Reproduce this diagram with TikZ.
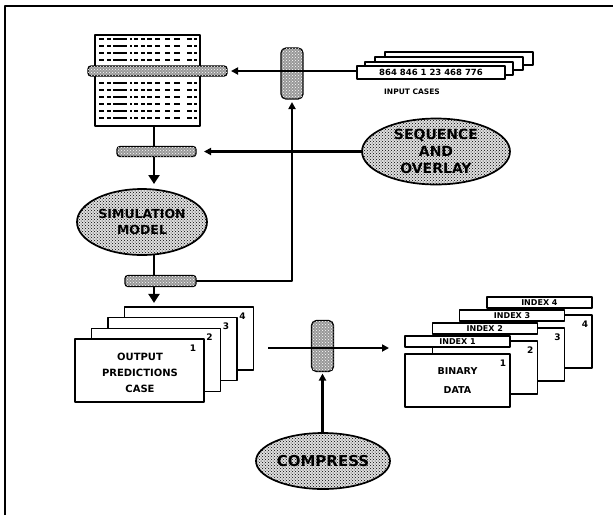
\documentclass[tikz,border=0pt]{standalone}
\usepackage{fontspec}
\newfontfamily\lbl{DejaVu Sans}
\usetikzlibrary{shapes.geometric, patterns, arrows.meta}

\begin{document}
\begin{tikzpicture}[x=1pt, y=-1pt, line join=round,
  card/.style={draw, line width=1.4pt, fill=white, inner sep=0pt, outer sep=0pt, anchor=north west},
  blob/.style={ellipse, draw, line width=1.7pt, inner sep=0pt, outer sep=0pt,
    preaction={fill=gray!25}, pattern=crosshatch dots, pattern color=black},
  token/.style={draw, line width=1.3pt, rounded corners=3pt, inner sep=0pt, outer sep=0pt,
    fill=gray!80, postaction={pattern=crosshatch dots, pattern color=white}},
  gate/.style={token, rounded corners=5pt, minimum width=22pt, minimum height=51pt},
  link/.style={line width=2.2pt},
  arr/.style={link, -{Triangle[length=7pt,width=7pt]}},
  bigarr/.style={link, -{Triangle[length=9pt,width=11pt]}},
  big/.style={font=\lbl\bfseries\fontsize{14}{17}\selectfont, align=center, inner sep=0pt},
  mid/.style={font=\lbl\bfseries\fontsize{10}{16}\selectfont, align=center, inner sep=0pt},
  small/.style={font=\lbl\bfseries\fontsize{8}{10}\selectfont, inner sep=0pt},
]
\useasboundingbox (0,0) rectangle (613,515);

% outer frame (left and top edges)
\draw[line width=1.4pt] (5,515) -- (5,6) -- (613,6);

% ---- table of cases ----
\node[card, minimum width=105pt, minimum height=91pt] (table) at (95,35) {};
\foreach \ry in {39,46,53,60,83,90,97,104,111,118}
  \foreach \a/\b in {99/104,107/111,113/127,130/132,134/138,141/145,147/152,155/160,165/170,174/180,187/192,194/197}
    \draw[line width=2.5pt] (\a,\ry) -- (\b,\ry);
\node[token, minimum width=139pt, minimum height=10pt] (bar1) at (157.5,71) {};

% ---- input cases stack ----
\foreach \k/\dx/\dy in {4/28/-14,3/18/-9,2/8/-4}
  \node[card, minimum width=148pt, minimum height=13pt] (in\k) at (357+\dx,66+\dy) {};
\node[card, minimum width=148pt, minimum height=13pt] (in1) at (357,66) {};
\node[small, font=\lbl\bfseries\fontsize{8.5}{10}\selectfont] at (in1.center) {864 846 1 23 468 776};
\node[small, font=\lbl\bfseries\fontsize{7.5}{9}\selectfont] (inlbl) at (412,92) {INPUT CASES};

% ---- upper gate ----
\node[gate] (filt1) at (292,73.5) {};
\draw[arr, shorten >=4pt] (in1.west |- bar1.east) -- (bar1.east);

% ---- sequence and overlay ----
\node[blob, minimum width=148pt, minimum height=66pt] (seq) at (436,151.5) {};
\node[big] at (seq.center) {SEQUENCE\\AND\\OVERLAY};
\node[token, minimum width=79pt, minimum height=10pt] (bar2) at (156.5,151.5) {};
\draw[arr, shorten >=8pt] (seq.west) -- (bar2.east);

% ---- simulation model ----
\coordinate (colx) at (154,0);
\node[blob, minimum width=130pt, minimum height=66pt] (sim) at (142,222) {};
\node[big, font=\lbl\bfseries\fontsize{12.5}{16}\selectfont] at (sim.center) {SIMULATION\\MODEL};
\draw[link] (colx |- table.south) -- (colx |- bar2.north);
\draw[bigarr, shorten >=5pt] (colx |- bar2.south) -- (colx |- sim.north);

\node[token, minimum width=71pt, minimum height=11pt] (bar3) at (160.5,281) {};
\draw[link] (colx |- sim.south) -- (colx |- bar3.north);
\draw[arr, shorten >=3pt] (bar3.east) -| (filt1.south);

% ---- output predictions stack ----
\foreach \k in {4,3,2,1}
  \node[card, minimum width=129pt, minimum height=63pt] (out\k) at ({75+16.5*(\k-1)},{339-10.7*(\k-1)}) {};
\foreach \k in {1,2,3,4}
  \node[small, font=\lbl\bfseries\fontsize{9}{10}\selectfont] at ([xshift=-11pt,yshift=-9pt]out\k.north east) {\k};
\node[mid] at (140,373) {OUTPUT\\PREDICTIONS\\CASE};
\draw[bigarr, shorten >=4pt] (colx |- bar3.south) -- (colx |- out4.north);

% ---- binary data stack ----
\foreach \k in {4,3,2,1} {
  \node[card, minimum width=105pt, minimum height=53pt] (dat\k) at ({405+27.3*(\k-1)},{354-13*(\k-1)}) {};
  \node[card, minimum width=105pt, minimum height=11pt] (idx\k) at ({405+27.3*(\k-1)},{336-13*(\k-1)}) {};
  \node[small] at (idx\k.center) {INDEX \k};
  \node[small, font=\lbl\bfseries\fontsize{9}{10}\selectfont] at ([xshift=-7pt,yshift=-9pt]dat\k.north east) {\k};
}
\node[mid, font=\lbl\bfseries\fontsize{9.5}{19}\selectfont] at (dat1.center) {BINARY\\DATA};

% ---- compression gate ----
\coordinate (midin) at (268,348);
\coordinate (midout) at (389,348);
\node[gate] (filt2) at (322.5,346) {};
\draw[arr] (midin) -- (midout);

\node[blob, minimum width=134pt, minimum height=56pt] (comp) at (323,461) {};
\node[big, font=\lbl\bfseries\fontsize{15}{17}\selectfont] at (comp.center) {COMPRESS};
\draw[arr, shorten >=2pt] (comp.north -| filt2) -- (filt2.south);
\end{tikzpicture}
\end{document}
